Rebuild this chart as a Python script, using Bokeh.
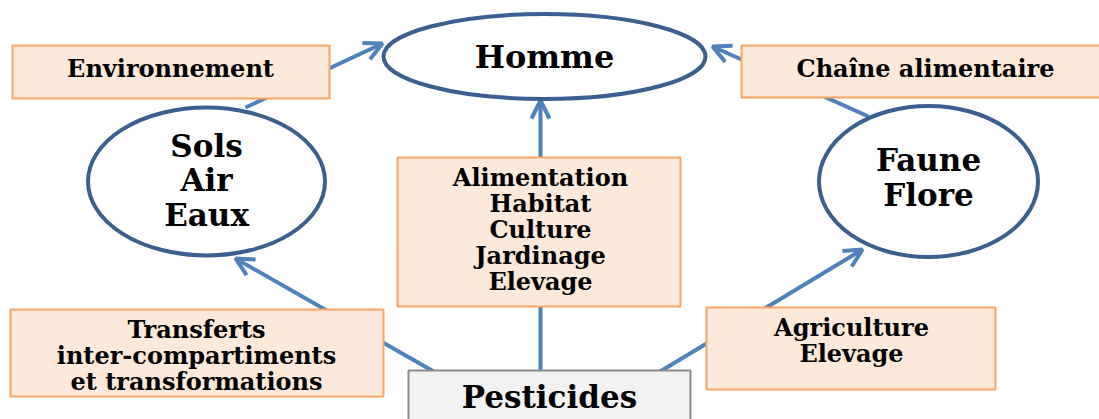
from bokeh.plotting import figure
from bokeh.models import Range1d, Arrow, OpenHead
from bokeh.core.properties import value
from bokeh.embed import file_html
from bokeh.resources import INLINE

# ---- data (diagram nodes, in picture pixel coordinates) ----
box_labels = ["Environnement", "Chaîne alimentaire",
              "Alimentation\nHabitat\nCulture\nJardinage\nElevage",
              "Transferts\ninter-compartiments\net transformations",
              "Agriculture\nElevage"]
box_left = [12, 741, 397, 10, 706]
box_right = [329, 1110, 680, 383, 995]
box_top = [45, 45, 157, 309, 307]
box_bottom = [98, 97, 306, 396, 389]
box_text_x = [170, 925, 540, 196, 851]
box_text_y = [68, 68, 229, 355, 340]

ell_labels = ["Homme", "Sols\nAir\nEaux", "Faune\nFlore"]
ell_x = [544, 206, 928]
ell_y = [56, 181, 181]
ell_w = [322, 237, 219]
ell_h = [85, 148, 151]

pest_label = "Pesticides"
pest_box = [408, 690, 370, 440]

# arrows
arr_x0 = [540, 435, 658, 245, 868]
arr_y0 = [372, 372, 372, 107, 116]
arr_x1 = [540, 235, 862, 382, 712]
arr_y1 = [100, 258, 249, 43, 46]

FONT = "DejaVu Serif"

p = figure(width=1099, height=419, output_backend="svg", toolbar_location=None,
           x_range=Range1d(0, 1099), y_range=Range1d(419, 0),
           min_border=0, outline_line_color=None)
p.axis.visible = False
p.grid.visible = False
p.background_fill_color = "white"

ARROW = "#4F81BD"
for x0, y0, x1, y1 in zip(arr_x0, arr_y0, arr_x1, arr_y1):
    a = Arrow(x_start=x0, y_start=y0, x_end=x1, y_end=y1,
              line_color=ARROW, line_width=4,
              end=OpenHead(line_color=ARROW, line_width=4, size=18),
              level="underlay")
    p.add_layout(a)

# boxes
p.quad(left=box_left, right=box_right, top=box_top, bottom=box_bottom,
       fill_color="#FDE9D9", line_color="#F9A464", line_width=2)
p.quad(left=[pest_box[0]], right=[pest_box[1]], top=[pest_box[2]], bottom=[pest_box[3]],
       fill_color="#F2F2F2", line_color="#8C8C8C", line_width=2)

# ellipses
p.ellipse(x=ell_x, y=ell_y, width=ell_w, height=ell_h,
          fill_color="white", line_color="#3B6090", line_width=4)

# texts
p.text(x=box_text_x, y=box_text_y, text=box_labels, text_font=value(FONT), text_font_style="bold",
       text_font_size="24px", text_align="center", text_baseline="middle",
       text_line_height=0.9, text_color="black")

p.text(x=ell_x[:1], y=ell_y[:1], text=ell_labels[:1], text_font=value(FONT),
       text_font_style="bold", text_font_size="32px", text_align="center",
       text_baseline="middle", text_color="black")
p.text(x=ell_x[1:], y=[180, 177], text=ell_labels[1:], text_font=value(FONT),
       text_font_style="bold", text_font_size="31px", text_align="center",
       text_baseline="middle", text_line_height=0.96, text_color="black")

p.text(x=[(pest_box[0] + pest_box[1]) / 2], y=[396], text=[pest_label],
       text_font=value(FONT), text_font_style="bold", text_font_size="31px",
       text_align="center", text_baseline="middle", text_color="black")

open("out.html", "w").write(file_html(p, INLINE))
